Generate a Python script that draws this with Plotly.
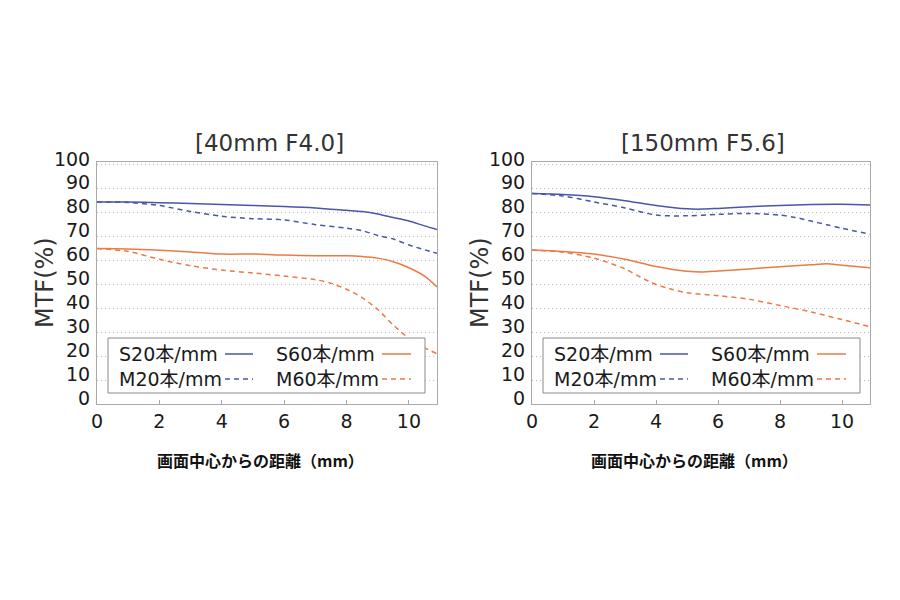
import plotly.graph_objects as go

# ---------------- data ----------------
titles = ["[40mm F4.0]", "[150mm F5.6]"]
x_title = "画面中心からの距離（mm）"
y_title = "MTF(%)"
series_names = ["S20本/mm", "M20本/mm", "S60本/mm", "M60本/mm"]

# 40mm F4.0
x40_s20 = [0, 1, 2, 3, 4, 5, 6, 7, 8, 8.5, 9, 9.5, 10, 10.5, 10.9]
y40_s20 = [84.5, 84.5, 84.2, 83.8, 83.4, 83.0, 82.6, 82.0, 81.0, 80.5, 79.5, 78.0, 76.5, 74.5, 73.0]
x40_m20 = [0, 1, 2, 3, 4, 5, 6, 7, 8, 8.5, 9, 9.5, 10, 10.5, 10.9]
y40_m20 = [84.5, 84.3, 83.0, 80.5, 78.5, 77.5, 77.0, 75.0, 73.5, 72.5, 70.5, 69.0, 66.5, 64.5, 63.0]
x40_s60 = [0, 1, 2, 3, 4, 5, 6, 7, 8, 8.5, 9, 9.5, 10, 10.5, 10.9]
y40_s60 = [65.0, 64.8, 64.3, 63.6, 62.7, 62.7, 62.3, 62.0, 62.0, 61.7, 61.0, 59.5, 57.0, 53.5, 49.0]
x40_m60 = [0, 1, 2, 3, 4, 5, 6, 7, 7.5, 8, 8.5, 9, 9.5, 10, 10.5, 10.9]
y40_m60 = [65.0, 63.8, 60.5, 57.8, 56.0, 54.8, 53.5, 52.0, 50.5, 48.0, 44.5, 39.5, 33.0, 27.5, 23.5, 21.0]

# 150mm F5.6
x150_s20 = [0, 1, 2, 3, 4, 5, 5.5, 6, 7, 8, 9, 10, 10.9]
y150_s20 = [88.0, 87.6, 86.7, 85.0, 83.0, 81.6, 81.5, 81.8, 82.5, 83.0, 83.4, 83.5, 83.2]
x150_m20 = [0, 1, 2, 3, 4, 5, 6, 7, 8, 8.5, 9, 9.5, 10, 10.9]
y150_m20 = [88.0, 87.0, 84.5, 82.0, 79.0, 78.7, 79.3, 79.7, 79.0, 78.0, 76.5, 75.0, 73.5, 71.0]
x150_s60 = [0, 1, 2, 3, 4, 5, 5.5, 6, 7, 8, 9, 9.5, 10, 10.9]
y150_s60 = [64.4, 63.8, 62.7, 60.5, 57.5, 55.5, 55.2, 55.6, 56.5, 57.4, 58.2, 58.6, 58.0, 57.0]
x150_m60 = [0, 1, 2, 3, 3.5, 4, 4.5, 5, 6, 7, 8, 9, 10, 10.9]
y150_m60 = [64.4, 63.5, 61.0, 56.5, 53.0, 50.0, 48.0, 46.5, 45.3, 43.8, 41.2, 38.5, 35.3, 32.3]

x_ticks = [0, 2, 4, 6, 8, 10]
y_ticks = [0, 10, 20, 30, 40, 50, 60, 70, 80, 90, 100]

# ---------------- style ----------------
BLUE = "#4a56a8"
ORANGE = "#ec7a45"
DASH = "5px,4px"
FONT = "DejaVu Sans, Noto Sans CJK JP"
W, H = 900, 600
OFF = 8  # page body margin offset (screen px -> figure px)

styles = [(BLUE, "solid"), (BLUE, DASH), (ORANGE, "solid"), (ORANGE, DASH)]

panels = [
    dict(series=[(x40_s20, y40_s20), (x40_m20, y40_m20), (x40_s60, y40_s60), (x40_m60, y40_m60)],
         left=97, right=437, xa="x", ya="y"),
    dict(series=[(x150_s20, y150_s20), (x150_m20, y150_m20), (x150_s60, y150_s60), (x150_m60, y150_m60)],
         left=532, right=870, xa="x2", ya="y2"),
]
TOP, BOTTOM = 162, 404


def px(x):
    return (x - OFF) / W


def py(y):
    return 1 - (y - OFF) / H


fig = go.Figure()
shapes = []
annotations = []

for i, p in enumerate(panels):
    for (xs, ys), (col, dash), name in zip(p["series"], styles, series_names):
        fig.add_trace(go.Scatter(
            x=xs, y=ys, mode="lines", name=name, showlegend=False,
            line=dict(color=col, width=1.5, dash=dash, shape="spline", smoothing=0.8),
            xaxis=p["xa"], yaxis=p["ya"],
        ))
    L, R = p["left"], p["right"]
    cx = (L + R) / 2
    # title
    annotations.append(dict(text=titles[i], x=px(cx + 2), y=py(143), xref="paper", yref="paper",
                            showarrow=False, font=dict(size=23, color="#333", family=FONT),
                            xanchor="center", yanchor="middle"))
    # y title
    annotations.append(dict(text=y_title, x=px(L - 52), y=py((TOP + BOTTOM) / 2), xref="paper",
                            yref="paper", showarrow=False, textangle=-90,
                            font=dict(size=24, color="#333", family=FONT),
                            xanchor="center", yanchor="middle"))
    # x title
    annotations.append(dict(text="<b>" + x_title + "</b>", x=px(cx - 7), y=py(460), xref="paper",
                            yref="paper", showarrow=False,
                            font=dict(size=16, color="#111", family="Noto Sans CJK JP"),
                            xanchor="center", yanchor="middle"))
    # legend box
    shapes.append(dict(type="rect", xref="paper", yref="paper", x0=px(L + 11), x1=px(L + 328),
                       y0=py(393), y1=py(338), fillcolor="white",
                       line=dict(color="#8a8a8a", width=1), layer="above"))
    rows = [354, 379]
    cols = [(L + 20, L + 128, L + 156), (L + 177, L + 285, L + 314)]
    order = [(0, 0, 0), (1, 1, 0), (2, 0, 1), (3, 1, 1)]
    for k, r, c in order:
        tx, l0, l1 = cols[c]
        col, dash = styles[k]
        annotations.append(dict(text=series_names[k], x=px(tx), y=py(rows[r]), xref="paper",
                                yref="paper", showarrow=False, xanchor="left", yanchor="middle",
                                font=dict(size=19, color="#1a1a1a", family=FONT)))
        shapes.append(dict(type="line", xref="paper", yref="paper", x0=px(l0), x1=px(l1),
                           y0=py(rows[r]), y1=py(rows[r]), layer="above",
                           line=dict(color=col, width=1.5, dash=dash)))

axis_common = dict(showline=True, mirror=True, linecolor="#aaaaaa", linewidth=1,
                   zeroline=False, automargin=False,
                   tickfont=dict(size=19, color="#1a1a1a", family=FONT))

for i, p in enumerate(panels):
    sfx = "" if i == 0 else str(i + 1)
    fig.layout["xaxis" + sfx] = dict(
        domain=[px(p["left"]), px(p["right"])], range=[0, 10.9], tickvals=x_ticks,
        ticks="inside", ticklen=4, tickcolor="#aaaaaa", showgrid=False,
        anchor="y" + sfx, **axis_common)
    fig.layout["yaxis" + sfx] = dict(
        domain=[py(BOTTOM), py(TOP)], range=[0, 101.2], tickvals=y_ticks,
        showgrid=True, gridcolor="#bbbbbb", griddash="1px,3px", gridwidth=1,
        ticks="", ticklabelshift=-6, ticklabelstandoff=2, anchor="x" + sfx, **axis_common)

fig.update_layout(
    width=W, height=H, margin=dict(l=0, r=0, t=0, b=0, autoexpand=False),
    paper_bgcolor="white", plot_bgcolor="white",
    shapes=shapes, annotations=annotations, showlegend=False,
    font=dict(family=FONT),
)

fig.write_html("out.html")
